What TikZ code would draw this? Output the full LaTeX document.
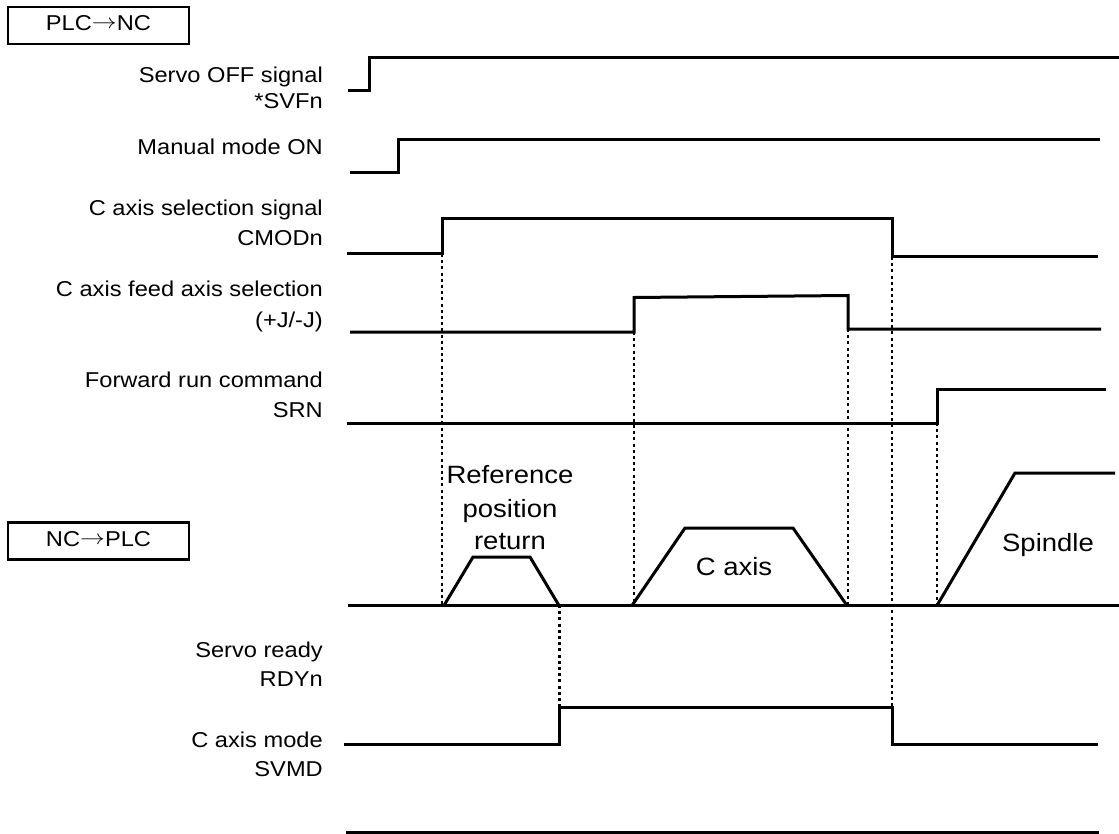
\documentclass[tikz,border=0pt]{standalone}
\usepackage{fontspec}
\setmainfont{Liberation Sans}[FakeStretch=1.1]
\newcommand{\rarr}{\raisebox{1.5pt}{\scalebox{1.2}[1]{$\rightarrow$}}}
\begin{document}
\begin{tikzpicture}[x=1pt,y=-1pt,
  sig/.style={line width=3pt, line join=miter, line cap=butt},
  vdot/.style={line width=2.8pt, dash pattern=on 3pt off 3.2pt},
  lab/.style={anchor=base east, inner sep=0pt, font=\fontsize{21.5}{26}\selectfont},
  big/.style={anchor=base, inner sep=0pt, font=\fontsize{25}{30}\selectfont},
  dirbox/.style={draw, line width=2.8pt, minimum width=181pt, minimum height=37pt,
    inner sep=0pt, text height=16pt, text depth=6pt, font=\fontsize{21.5}{26}\selectfont}]
\useasboundingbox (0,0) rectangle (1119,834);

% direction boxes
\node[dirbox] (plcnc) at (98.5,25.5) {PLC\rarr NC};
\node[dirbox] (ncplc) at (98.5,541) {NC\rarr PLC};

% labels
\node[lab] (l1a) at (323,83) {Servo OFF signal};
\node[lab] (l1b) at (323,109) {*SVFn};
\node[lab] (l2a) at (323,155) {Manual mode ON};
\node[lab] (l3a) at (323,216) {C axis selection signal};
\node[lab] (l3b) at (323,245.5) {CMODn};
\node[lab] (l4a) at (323,297) {C axis feed axis selection};
\node[lab] (l4b) at (323,327) {(+J/-J)};
\node[lab] (l5a) at (323,387) {Forward run command};
\node[lab] (l5b) at (323,417) {SRN};
\node[lab] (l6a) at (323,657) {Servo ready};
\node[lab] (l6b) at (323,686) {RDYn};
\node[lab] (l7a) at (323,747) {C axis mode};
\node[lab] (l7b) at (323,776) {SVMD};

\node[big] (ref1) at (510,483) {Reference};
\node[big] (ref2) at (510,517) {position};
\node[big] (ref3) at (510,549) {return};
\node[big] (cax) at (734,575) {C axis};
\node[big] (spd) at (1048,551) {Spindle};

% dotted timing lines
\draw[vdot] (442,254) -- (442,605);
\draw[vdot] (634,332) -- (634,605);
\draw[vdot] (848,329) -- (848,605);
\draw[vdot] (892,257) -- (892,744);
\draw[vdot] (937,423) -- (937,605);
\draw[vdot] (559.5,605) -- (559.5,707);

% waveforms
\draw[sig] (348,91) -- (369,91) -- (369,58) -- (1119,58);
\draw[sig] (350,173) -- (398,173) -- (398,140) -- (1100,140);
\draw[sig] (347,254) -- (442,254) -- (442,219) -- (892,219) -- (892,257) -- (1098,257);
\draw[sig] (350,332) -- (634,332) -- (634,297.5) -- (848,295.5) -- (848,329) -- (1101,329);
\draw[sig] (347,423) -- (937,423) -- (937,389) -- (1106,389);

% speed
\draw[sig] (348,605.5) -- (1119,605.5);
\draw[sig] (444,605.5) -- (473,557) -- (530,557) -- (559,605.5);
\draw[sig] (632,605.5) -- (685,528) -- (793,528) -- (847,605.5);
\draw[sig] (937,605.5) -- (1015,473) -- (1115,473);

% NC->PLC
\draw[sig] (344,744) -- (559.5,744) -- (559.5,707) -- (892,707) -- (892,744) -- (1098,744);
\draw[sig] (346,832.5) -- (1099,832.5);
\end{tikzpicture}
\end{document}
